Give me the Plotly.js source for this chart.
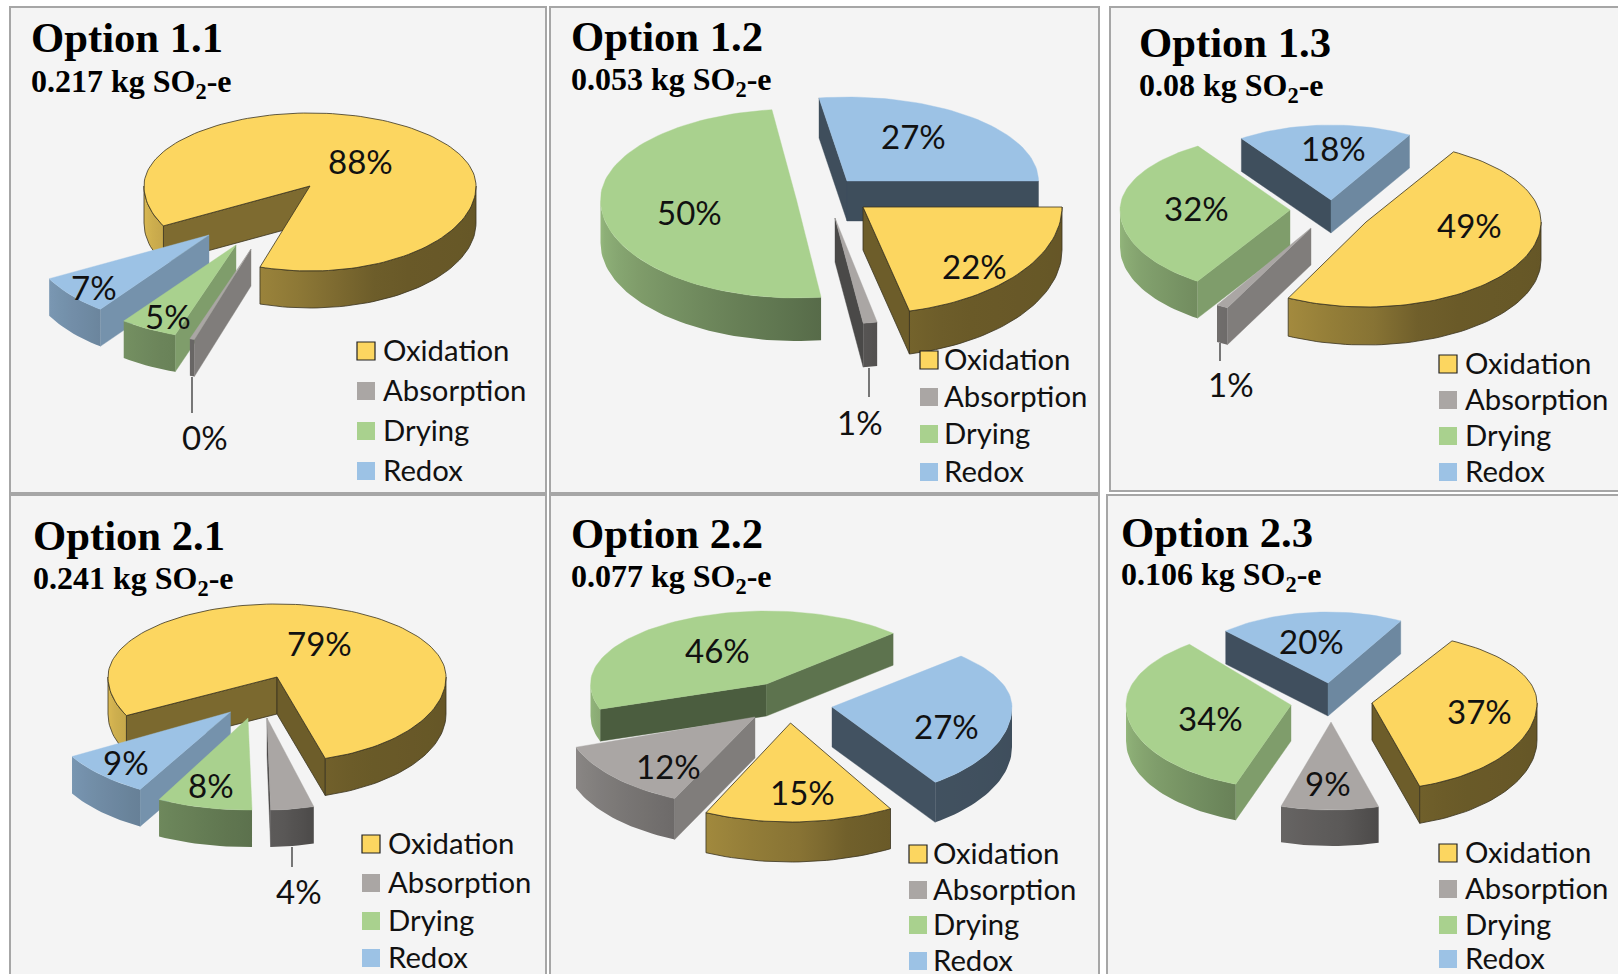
<!DOCTYPE html>
<html><head><meta charset="utf-8">
<script src="https://cdn.plot.ly/plotly-3.0.1.min.js"></script>
<style>html,body{margin:0;padding:0;background:#fff;overflow:hidden}</style>
</head><body><div id="chart" style="width:1618px;height:974px"></div>
<script>
// ---- data ----
const categories = ['Oxidation','Absorption','Drying','Redox'];
const optionNames = ['Option 1.1','Option 1.2','Option 1.3','Option 2.1','Option 2.2','Option 2.3'];
const totals = ['0.217','0.053','0.08','0.241','0.077','0.106'];
const oxidation  = [88,22,49,79,15,37];
const absorption = [0.4,1,1,4,12,9];
const drying     = [5,50,32,8,46,34];
const redox      = [7,27,18,9,27,20];
const colors = ['#FCD660','#AAA6A4','#A9D18E','#9CC2E5'];

// ---- layout table: geometry of the drawn panels ----
// slice: [apexX, apexY, rx, ryBack, ryFront, depth, labelX, labelY]
// persp: small per-slice angle corrections [start, end] for the 3D perspective of the original
const panels = [
 {box:[10,7,546,493], rot:242, order:[0,3,2,1], title:[29,37], sub:[29,83], legX:366, legT:381, legY:[349,389,429,469],
  leader:[192,377,413], slices:[[310,186,166,73,85,37,360,161],[251,249,188,95,95,37,204.5,437],[236,245,187,95,95,37,168,316],[209,235,181,93,93,37,94,287]]},
 {box:[550,7,1099,493], rot:90, order:[3,2,1,0], title:[569,36], sub:[569,81], legX:929, legT:942, legY:[358,395,432,470],
  leader:[869,368,397], persp:[[0,-2.7],[0,0],[0,0],[-1.2,0]], slices:[[863,207,199,107,107,43,974,266],[835,218,225,106,106,44,860,422],[796.5,200,196,91,98,43,689.5,212],[847,181,191.5,84,84,40,913.5,136]]},
 {box:[1110,7,1640,491], rot:30, order:[3,2,1,0], title:[1137,42], sub:[1137,87], legX:1448, legT:1463, legY:[362,398,434,470],
  leader:[1220,343,361], persp:[[0,0],[0,0],[3,2]], slices:[[1366,222,175,81,85,38,1469,225],[1311,228,188,89,89,37,1231,384],[1290,210,170,76,85,37,1196,208],[1331,200,157,75,75,33,1333,148]]},
 {box:[10,495,546,1000], rot:240, order:[0,3,2,1], title:[31,535], sub:[31,580], legX:371, legT:386, legY:[842,881,919,956],
  leader:[292,847,867], persp:[[3,-1],[0,0],[0,0],[2,0]], slices:[[277,677,169,73,85,37,319,643],[267,718,174,92,92,37,299,891],[248,718,192,92,92,37,210.5,785],[230.5,712,183,89,89,37,126,762]]},
 {box:[550,495,1099,1000], rot:150, order:[2,1,3,0], title:[569,533], sub:[569,578], legX:918, legT:931, legY:[852,888,923,959],
  persp:[[0,1],[1,3.2],[3.7,-6.8],[-7,-5]], wallEnd:{2:.55}, slices:[[790.5,723,200,99,99,40,802,792],[755,717,190,90,90,41,668,766],[766.5,684,176,73,77,32,717,650],[832,707,180,73,92,40,946,726]]},
 {box:[1107,495,1640,1000], rot:29, order:[3,2,1,0], title:[1119,532], sub:[1119,576], legX:1448, legT:1463, legY:[851,887,923,957],
  persp:[[0,1],[2,2],[5,5],[0,0]], slices:[[1372,703,165,71,87,37,1479,711],[1331,722,175,88,88,36,1328,783],[1291,705,165,77,84,36,1210,718],[1328,683,150,71,71,33,1311,641]]}
];
const outerShade = [[90,.40],[150,.42],[165,.45],[175,.53],[190,.58],[220,.70],[270,.88]];
const startShade = [[180,.75],[225,.75],[230,.68],[240,.52],[246,.46],[260,.42],[360,.40]];
const endShade   = [[0,.7],[60,.7],[70,.55],[90,.40],[180,.44]];

function lerp(tbl,t){
  if(t<=tbl[0][0])return tbl[0][1];
  for(let i=1;i<tbl.length;i++) if(t<=tbl[i][0]){
    const a=tbl[i-1],b=tbl[i]; return a[1]+(b[1]-a[1])*(t-a[0])/(b[0]-a[0]);
  }
  return tbl[tbl.length-1][1];
}
function shade(hex,f){
  const n=parseInt(hex.slice(1),16);
  return 'rgb('+[(n>>16)&255,(n>>8)&255,n&255].map(c=>Math.round(c*f)).join(',')+')';
}
const rad=d=>d*Math.PI/180, mod=d=>((d%360)+360)%360;
const traces=[], shapes=[], annotations=[];

function poly(xs,ys,fill,outline,grad){
  const t={type:'scatter',mode:'lines',x:xs.concat(xs[0]),y:ys.concat(ys[0]),fill:'toself',
    hoverinfo:'skip',showlegend:false,
    line:outline?{color:'#3a3320',width:0.8}:{color:grad?'rgba(0,0,0,0)':fill,width:outline?0.8:0.4}};
  if(grad){t.fillgradient=grad;} else {t.fillcolor=fill;}
  traces.push(t);
}
function drawSlice(g,col,th0,th1,wallEnd){
  const [ax,ay,rx,ryb,ryf,d]=g;
  const px=t=>ax+rx*Math.sin(rad(t));
  const py=t=>{const c=Math.cos(rad(t));return ay-(c>=0?ryb:ryf)*c;};
  const outline=col===colors[0];
  const arc=(a,b)=>{const n=Math.max(2,Math.ceil((b-a)/2)),r=[];for(let i=0;i<=n;i++)r.push(a+(b-a)*i/n);return r;};
  // radial cut walls
  if(Math.sin(rad(th0))<0){
    poly([ax,px(th0),px(th0),ax],[ay,py(th0),py(th0)+d,ay+d],shade(col,lerp(startShade,mod(th0))),outline);
  }
  if(Math.sin(rad(th1))>0){
    poly([ax,px(th1),px(th1),ax],[ay,py(th1),py(th1)+d,ay+d],shade(col,wallEnd||lerp(endShade,mod(th1))),outline);
  }
  // outer rounded wall, front half only
  for(let k=-1;k<=2;k++){
    const lo=Math.max(th0,90+360*k), hi=Math.min(th1,270+360*k);
    if(lo<hi){
      const a=arc(lo,hi);
      const xs=a.map(px).concat(a.slice().reverse().map(px));
      const ys=a.map(py).concat(a.slice().reverse().map(t=>py(t)+d));
      const x0=px(hi), x1=px(lo), stops=[];
      for(let i=0;i<=8;i++){
        const t=hi+(lo-hi)*i/8;
        const p=(x1-x0)<1e-6?i/8:Math.min(1,Math.max(0,(px(t)-x0)/(x1-x0)));
        stops.push([p,shade(col,lerp(outerShade,mod(t)))]);
      }
      stops[0][0]=0; stops[8][0]=1;
      poly(xs,ys,stops[0][1],outline,{type:'horizontal',colorscale:stops,start:x0,stop:x1});
    }
  }
  // top face
  const a=arc(th0,th1);
  poly([ax].concat(a.map(px)),[ay].concat(a.map(py)),col,outline);
}

optionNames.forEach((name,i)=>{
  const P=panels[i];
  const vals=[oxidation[i],absorption[i],drying[i],redox[i]];
  const sum=vals.reduce((a,b)=>a+b,0);
  shapes.push({type:'rect',layer:'below',xref:'x',yref:'y',x0:P.box[0],y0:P.box[1],x1:P.box[2],y1:P.box[3],
    fillcolor:'#F4F4F4',line:{color:'#A6A6A6',width:2}});
  const ang=[]; let cur=P.rot;
  vals.forEach(v=>{ang.push([cur,cur+v/sum*360]);cur+=v/sum*360;});
  P.order.forEach(s=>{
    const n=(P.persp&&P.persp[s])||[0,0];
    drawSlice(P.slices[s],colors[s],ang[s][0]+n[0],ang[s][1]+n[1],P.wallEnd&&P.wallEnd[s]);
  });
  vals.forEach((v,s)=>{
    const g=P.slices[s];
    annotations.push({x:g[6],y:g[7],xref:'x',yref:'y',text:Math.round(v)+'%',showarrow:false,
      xanchor:'center',yanchor:'middle',font:{family:'Lato',size:33,color:'#111'}});
  });
  if(P.leader){
    traces.push({type:'scatter',mode:'lines',x:[P.leader[0],P.leader[0]],y:[P.leader[1],P.leader[2]],
      line:{color:'#222',width:1.2},hoverinfo:'skip',showlegend:false});
  }
  annotations.push({x:P.title[0],y:P.title[1],xref:'x',yref:'y',text:'<b>'+name+'</b>',showarrow:false,
    xanchor:'left',yanchor:'middle',font:{family:'Liberation Serif',size:42.7,color:'#000'}});
  annotations.push({x:P.sub[0],y:P.sub[1],xref:'x',yref:'y',text:'<b>'+totals[i]+' kg SO<sub>2</sub>-e</b>',showarrow:false,
    xanchor:'left',yanchor:'middle',font:{family:'Liberation Serif',size:32,color:'#000'}});
  traces.push({type:'scatter',mode:'markers',x:categories.map(()=>P.legX),y:P.legY.map(y=>y+2),hoverinfo:'skip',showlegend:false,
    marker:{symbol:'square',size:18,color:colors,line:{color:['#222','rgba(0,0,0,0)','rgba(0,0,0,0)','rgba(0,0,0,0)'],width:1.2}}});
  categories.forEach((c,s)=>annotations.push({x:P.legT,y:P.legY[s],xref:'x',yref:'y',text:c,showarrow:false,
    xanchor:'left',yanchor:'middle',font:{family:'Lato',size:29.3,color:'#111'}}));
});

Plotly.newPlot('chart',traces,{
  width:1618,height:974,margin:{l:0,r:0,t:0,b:0},paper_bgcolor:'#fff',plot_bgcolor:'#fff',showlegend:false,
  xaxis:{range:[0,1618],visible:false,fixedrange:true},
  yaxis:{range:[974,0],visible:false,fixedrange:true},
  shapes,annotations
},{displayModeBar:false,staticPlot:true});
</script></body></html>
